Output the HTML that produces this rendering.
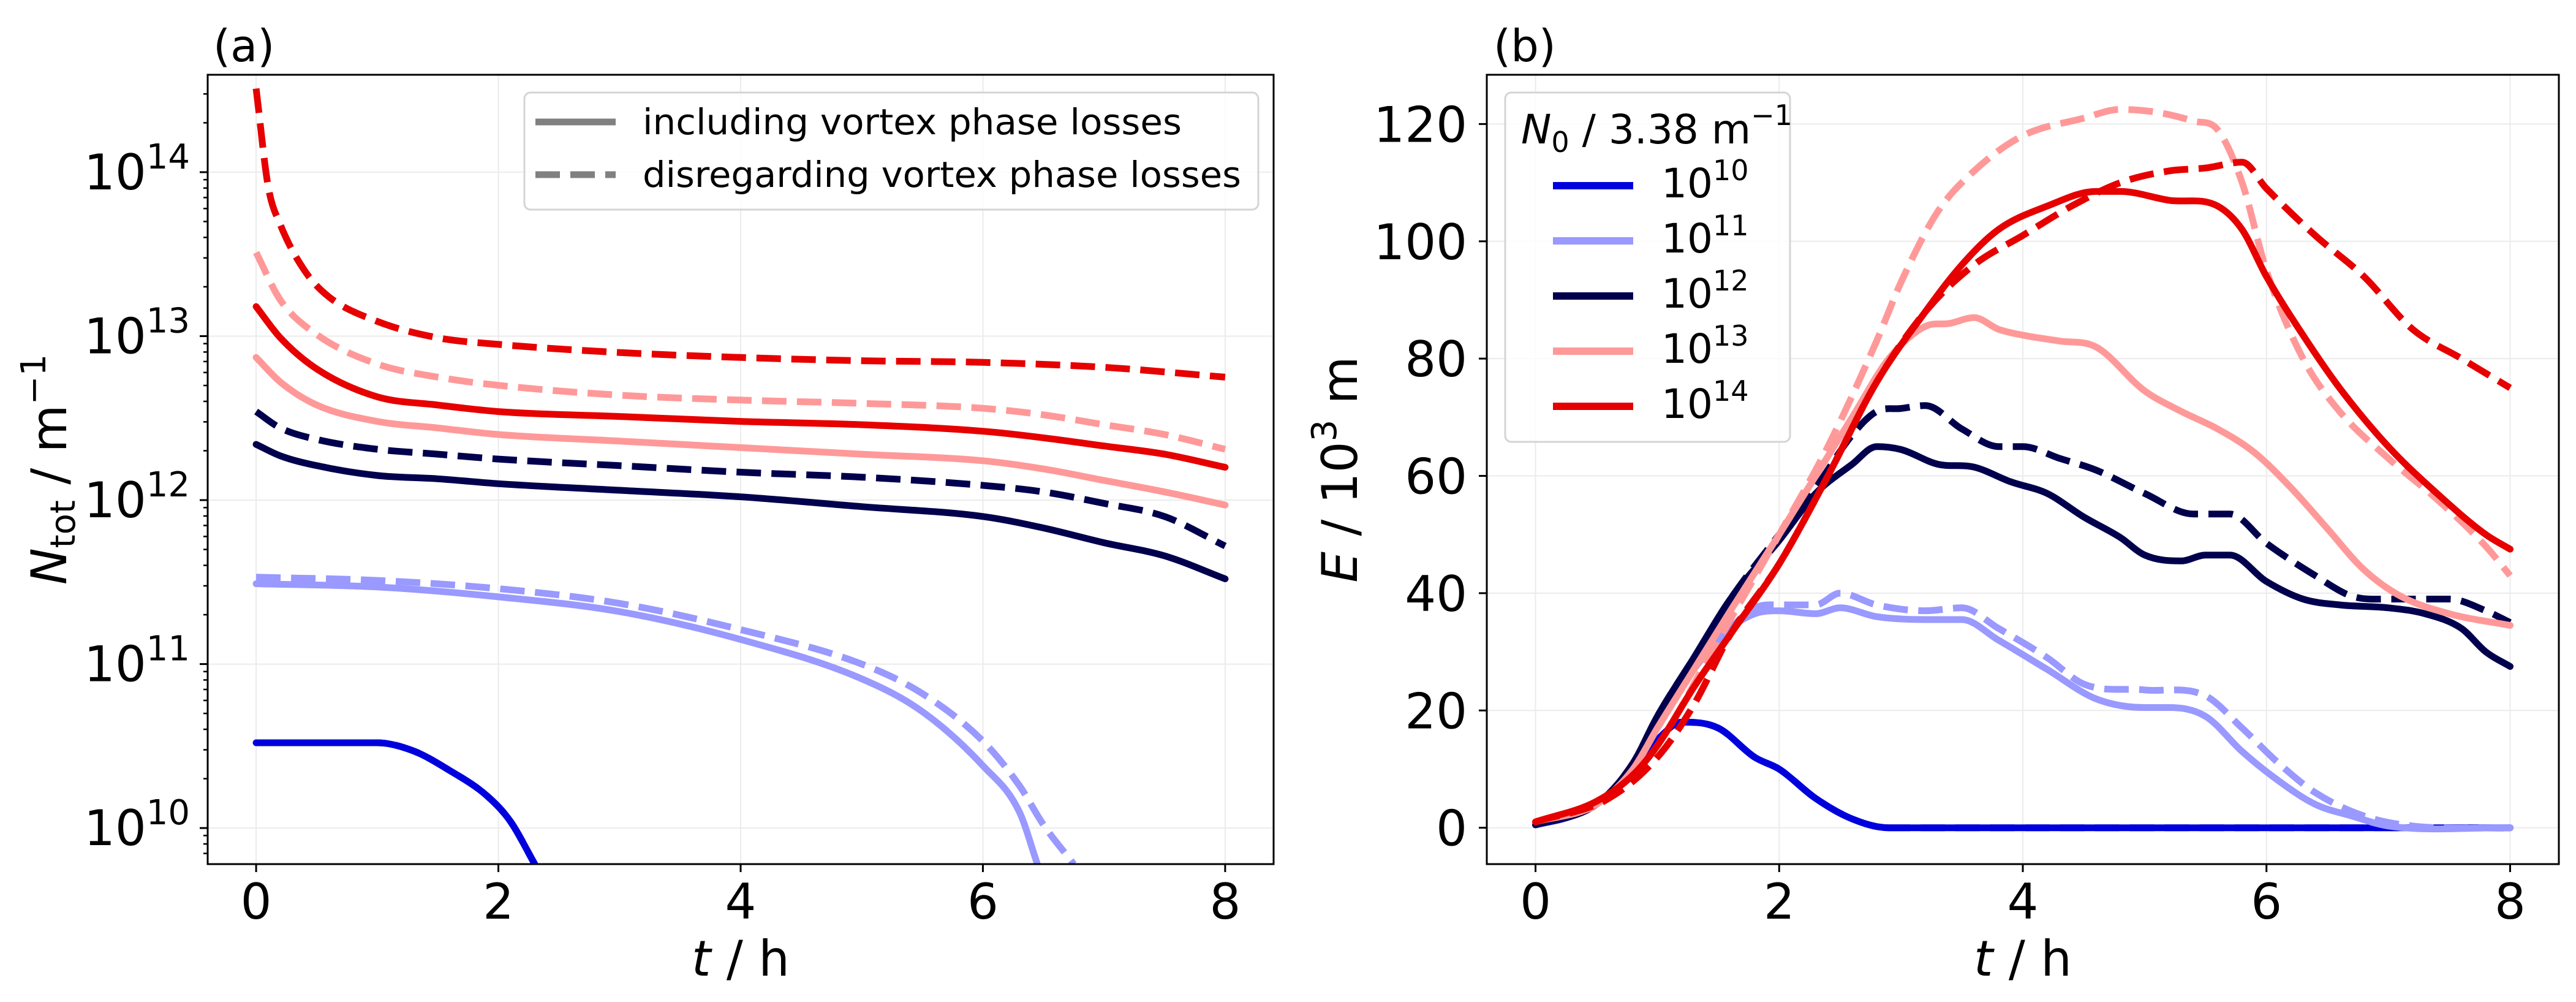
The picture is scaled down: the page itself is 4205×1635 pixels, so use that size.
<!DOCTYPE html>
<html><head><meta charset="utf-8"><style>
html,body{margin:0;padding:0;background:#fff;}
svg{display:block;font-family:"DejaVu Sans","Liberation Sans",sans-serif;}
</style></head><body>
<svg id="chart" width="4205" height="1635" viewBox="0 0 4205 1635" xmlns="http://www.w3.org/2000/svg">
<g id="pa"></g>
<g id="pb"></g>
</svg>
<script>
// ---------- data ----------
const xTicks = [0, 2, 4, 6, 8];
const aDecades = [10, 11, 12, 13, 14];
const bTicks = [0, 20, 40, 60, 80, 100, 120];
const seriesNames = ['1e10', '1e11', '1e12', '1e13', '1e14'];
const legendLabels = ['10', '11', '12', '13', '14'];
// panel (a): log10 N_tot
const aT_red = [0, 0.1, 0.2, 0.4, 0.6, 1, 1.5, 2, 3, 4, 5, 6, 7, 8];
const aRedDash = [14.51, 13.91, 13.68, 13.4, 13.24, 13.09, 12.99, 12.95, 12.9, 12.87, 12.85, 12.84, 12.81, 12.75];
const aT = [0, 0.2, 0.5, 1, 1.5, 2, 3, 4, 5, 6, 6.5, 7, 7.5, 8];
const aRedSolid = [13.18, 12.99, 12.8, 12.63, 12.58, 12.54, 12.51, 12.48, 12.46, 12.42, 12.38, 12.33, 12.28, 12.2];
const aPinkDash = [13.51, 13.22, 13.01, 12.83, 12.75, 12.70, 12.64, 12.61, 12.59, 12.56, 12.52, 12.46, 12.40, 12.31];
const aPinkSolid = [12.87, 12.72, 12.58, 12.48, 12.44, 12.40, 12.36, 12.32, 12.28, 12.24, 12.19, 12.12, 12.05, 11.97];
const aNavyDash = [12.54, 12.44, 12.37, 12.31, 12.28, 12.25, 12.21, 12.17, 12.14, 12.09, 12.05, 11.98, 11.90, 11.72];
const aNavySolid = [12.34, 12.27, 12.21, 12.15, 12.13, 12.10, 12.06, 12.02, 11.96, 11.90, 11.83, 11.74, 11.66, 11.52];
const aT_lbd = [0, 1, 2, 3, 4, 5, 5.5, 6, 6.3, 6.5, 6.75];
const aLBlueDash = [11.53, 11.51, 11.46, 11.37, 11.21, 11.0, 10.82, 10.53, 10.26, 10.02, 9.78];
const aT_lbs = [0, 1, 2, 3, 4, 5, 5.5, 6, 6.3, 6.45];
const aLBlueSolid = [11.49, 11.47, 11.41, 11.32, 11.15, 10.91, 10.71, 10.38, 10.10, 9.78];
const aT_b = [0, 0.5, 1, 1.3, 1.6, 1.9, 2.1, 2.3];
const aBlue = [10.52, 10.52, 10.52, 10.47, 10.35, 10.2, 10.04, 9.78];
// panel (b): E / 10^3 m
const bT_blue = [0, 0.3, 0.5, 0.75, 1, 1.2, 1.5, 1.8, 2, 2.3, 2.6, 2.9, 8];
const bBlue = [0.5, 2, 4, 9, 15, 18, 17, 12, 10, 5, 1.5, 0, 0];
const bT_lbs = [0, 0.5, 0.8, 1, 1.3, 1.6, 1.8, 2, 2.3, 2.5, 2.8, 3.2, 3.5, 3.8, 4.2, 4.6, 5, 5.2, 5.5, 5.8, 6.1, 6.4, 6.7, 7, 8];
const bLBlueSolid = [0.5, 4, 10, 17, 27, 34, 36.5, 37, 36.5, 37.5, 36, 35.5, 35.5, 32, 27, 22, 20.5, 20.5, 19, 13, 8, 4, 2, 0.3, 0];
const bT_lbd = [0, 0.5, 0.8, 1, 1.3, 1.6, 1.8, 2, 2.3, 2.5, 2.8, 3.2, 3.5, 3.8, 4.2, 4.5, 5, 5.5, 5.8, 6.1, 6.4, 6.8, 7.2, 8];
const bLBlueDash = [0.5, 4, 10, 17, 27, 34, 37.5, 38, 38, 40, 38, 37, 37.5, 34, 29, 24.5, 23.5, 22.5, 17, 11, 6, 2, 0.3, 0];
const bT_ns = [0, 0.5, 0.8, 1, 1.3, 1.6, 2, 2.3, 2.6, 2.8, 3, 3.3, 3.6, 3.9, 4.2, 4.5, 4.8, 5, 5.3, 5.5, 5.7, 6, 6.3, 6.6, 7, 7.3, 7.6, 7.8, 8];
const bNavySolid = [0.5, 4, 11, 19, 29, 39, 49, 57, 62, 65, 64.5, 62, 61.5, 59, 57, 53, 49.5, 46.5, 45.5, 46.5, 46.5, 42, 39, 38, 37.5, 36.5, 34, 30, 27.5];
const bT_nd = [0, 0.5, 0.8, 1, 1.3, 1.6, 2, 2.3, 2.6, 2.8, 3, 3.2, 3.5, 3.8, 4, 4.3, 4.6, 5, 5.4, 5.7, 6, 6.4, 6.7, 7, 7.5, 7.8, 8];
const bNavyDash = [0.5, 4, 11, 19, 29, 39, 50, 58, 67, 71, 71.5, 72, 68, 65, 65, 63, 61, 57, 53.5, 53.5, 48.5, 43, 39.5, 39, 39, 37, 35];
const bT_ps = [0, 0.5, 0.8, 1, 1.3, 1.6, 2, 2.3, 2.6, 2.9, 3.2, 3.4, 3.6, 3.8, 4, 4.3, 4.6, 5, 5.3, 5.6, 5.9, 6.2, 6.5, 6.8, 7.1, 7.5, 8];
const bPinkSolid = [1, 4, 10, 17, 27, 37, 50, 60, 70, 80, 85.5, 86, 87, 85, 84, 83, 82, 74.5, 71, 68, 64, 58, 51, 44, 39.5, 36.5, 34.5];
const bT_pd = [0, 0.6, 1, 1.5, 2, 2.4, 2.8, 3, 3.3, 3.6, 4, 4.5, 4.8, 5.1, 5.4, 5.6, 5.8, 6, 6.3, 6.6, 7, 7.4, 7.8, 8];
const bPinkDash = [1, 5, 14, 32, 50, 65, 83, 93, 105, 112, 118, 121, 122.5, 122, 120.5, 119, 110, 95, 80, 71, 63, 56, 48, 43];
const bT_rs = [0, 0.5, 0.8, 1, 1.3, 1.6, 2, 2.4, 2.8, 3.2, 3.5, 3.8, 4.2, 4.6, 4.8, 5.2, 5.6, 5.8, 6, 6.3, 6.6, 7, 7.4, 7.8, 8];
const bRedSolid = [1, 4.5, 9, 14, 24, 33, 45, 60, 76, 88, 96, 102, 106, 108.5, 108.5, 107, 106, 102, 94, 84, 75, 65, 57, 50, 47.5];
const bT_rd = [0, 0.6, 1, 1.3, 1.6, 2, 2.4, 2.8, 3.2, 3.6, 4, 4.4, 4.8, 5.2, 5.5, 5.8, 6, 6.4, 6.8, 7.2, 7.6, 8];
const bRedDash = [1, 5, 12, 21, 33, 45, 60, 76, 88, 96, 101, 106, 110, 112, 112.5, 113.5, 109, 101, 94, 85, 80, 75];

const C = {blue:'#0000dd', lblue:'#9999ff', navy:'#00004d', pink:'#ff9999', red:'#e60000'};
const NS = 'http://www.w3.org/2000/svg';
function mk(tag, attrs, parent, text){
  const e = document.createElementNS(NS, tag);
  for (const k in attrs) e.setAttribute(k, attrs[k]);
  if (text !== undefined) e.textContent = text;
  parent.appendChild(e); return e;
}
const A = {l:339, r:2079, t:122, b:1410, x0:-0.4, x1:8.4, y0:9.78, y1:14.594};
const B = {l:2427, r:4177, t:122, b:1410, x0:-0.4, x1:8.4, y0:-6.2, y1:128.4};
function sx(P, v){ return P.l + (v - P.x0) / (P.x1 - P.x0) * (P.r - P.l); }
function sy(P, v){ return P.b - (v - P.y0) / (P.y1 - P.y0) * (P.b - P.t); }

function frame(P, g, clipId){
  const d = mk('defs', {}, g);
  const cp = mk('clipPath', {id: clipId}, d);
  mk('rect', {x:P.l, y:P.t, width:P.r-P.l, height:P.b-P.t}, cp);
}
// cubic Hermite in x (no backward loops)
function smoothPath(pts){
  const n = pts.length;
  const m = [];
  for (let i = 0; i < n; i++) {
    if (i === 0) m.push((pts[1][1]-pts[0][1])/(pts[1][0]-pts[0][0]));
    else if (i === n-1) m.push((pts[n-1][1]-pts[n-2][1])/(pts[n-1][0]-pts[n-2][0]));
    else {
      const s0 = (pts[i][1]-pts[i-1][1])/(pts[i][0]-pts[i-1][0]);
      const s1 = (pts[i+1][1]-pts[i][1])/(pts[i+1][0]-pts[i][0]);
      m.push(s0*s1 <= 0 ? 0 : (s0+s1)/2);
    }
  }
  let d = 'M' + pts[0][0].toFixed(1) + ' ' + pts[0][1].toFixed(1);
  for (let i = 0; i < n-1; i++) {
    const dx = pts[i+1][0] - pts[i][0];
    const c1x = pts[i][0] + dx/3, c1y = pts[i][1] + m[i]*dx/3;
    const c2x = pts[i+1][0] - dx/3, c2y = pts[i+1][1] - m[i+1]*dx/3;
    d += 'C' + c1x.toFixed(1) + ' ' + c1y.toFixed(1) + ' ' + c2x.toFixed(1) + ' ' + c2y.toFixed(1) + ' ' + pts[i+1][0].toFixed(1) + ' ' + pts[i+1][1].toFixed(1);
  }
  return d;
}
function drawLine(P, g, xs, ys, color, dashed, name, clipId){
  const pts = xs.map((x, i) => [sx(P, x), sy(P, ys[i])]);
  const p = mk('path', {d:smoothPath(pts), fill:'none', stroke:color, 'stroke-width':11, 'stroke-linejoin':'round', 'stroke-linecap': dashed ? 'butt' : 'round', 'clip-path':'url(#'+clipId+')'}, g);
  if (dashed) p.setAttribute('stroke-dasharray', '40 17');
  
  
}

// ----- Panel A -----
const ga = document.getElementById('pa');
frame(A, ga, 'clipA');
xTicks.forEach(v => {
  const gl = mk('line', {x1:sx(A,v), x2:sx(A,v), y1:A.t, y2:A.b, stroke:'#ebebeb', 'stroke-width':2}, ga);
   
});
aDecades.forEach(v => {
  const gl = mk('line', {x1:A.l, x2:A.r, y1:sy(A,v), y2:sy(A,v), stroke:'#ebebeb', 'stroke-width':2}, ga);
   
});
const aS = [
  [aT_b, aBlue, C.blue, true, 'line-a-1e10-dashed'], [aT_b, aBlue, C.blue, false, 'line-a-1e10-solid'],
  [aT_lbd, aLBlueDash, C.lblue, true, 'line-a-1e11-dashed'], [aT_lbs, aLBlueSolid, C.lblue, false, 'line-a-1e11-solid'],
  [aT, aNavyDash, C.navy, true, 'line-a-1e12-dashed'], [aT, aNavySolid, C.navy, false, 'line-a-1e12-solid'],
  [aT, aPinkDash, C.pink, true, 'line-a-1e13-dashed'], [aT, aPinkSolid, C.pink, false, 'line-a-1e13-solid'],
  [aT_red, aRedDash, C.red, true, 'line-a-1e14-dashed'], [aT, aRedSolid, C.red, false, 'line-a-1e14-solid']];
aS.forEach(s => drawLine(A, ga, s[0], s[1], s[2], s[3], s[4], 'clipA'));
let fr = mk('rect', {x:A.l, y:A.t, width:A.r-A.l, height:A.b-A.t, fill:'none', stroke:'#000', 'stroke-width':3}, ga);
 
xTicks.forEach(v => {
  mk('line', {x1:sx(A,v), x2:sx(A,v), y1:A.b, y2:A.b+13, stroke:'#000', 'stroke-width':3}, ga);
  const t = mk('text', {x:sx(A,v), y:1499, 'font-size':80, 'text-anchor':'middle'}, ga, String(v));
   
});
for (let dec = 9; dec <= 14; dec++) {
  for (let m = 1; m <= 9; m++) {
    const lv = dec + Math.log10(m);
    if (lv < A.y0 || lv > A.y1) continue;
    const L = m === 1 ? 13 : 7;
    mk('line', {x1:A.l-L, x2:A.l, y1:sy(A,lv), y2:sy(A,lv), stroke:'#000', 'stroke-width': m===1?3:2.5}, ga);
  }
}
aDecades.forEach(v => {
  const t = mk('text', {x:310, y:sy(A,v)+28, 'font-size':80, 'text-anchor':'end'}, ga);
   
  mk('tspan', {}, t, '10');
  mk('tspan', {'font-size':56, dy:-34}, t, String(v));
});
let tl = mk('text', {x:348, y:100, 'font-size':72}, ga, '(a)');
 
let xl = mk('text', {x:sx(A,4), y:1592, 'font-size':80, 'text-anchor':'middle'}, ga);
 
mk('tspan', {'font-style':'italic'}, xl, 't'); mk('tspan', {}, xl, ' / h');
let yl = mk('text', {x:0, y:0, 'font-size':80, 'text-anchor':'middle', transform:'translate(108,766) rotate(-90)'}, ga);
 
mk('tspan', {'font-style':'italic'}, yl, 'N'); mk('tspan', {'font-size':56, dy:14}, yl, 'tot'); mk('tspan', {dy:-14}, yl, ' / m'); mk('tspan', {'font-size':56, dy:-34}, yl, '−1');
const lga = mk('g', {}, ga);  
mk('rect', {x:856, y:151, width:1198, height:191, rx:10, fill:'#fff', 'fill-opacity':0.8, stroke:'#d4d4d4', 'stroke-width':3}, lga);
mk('line', {x1:874, x2:1005, y1:199, y2:199, stroke:'#808080', 'stroke-width':11}, lga);
mk('line', {x1:874, x2:1005, y1:285, y2:285, stroke:'#808080', 'stroke-width':11, 'stroke-dasharray':'40 17'}, lga);
let e1 = mk('text', {x:1049, y:219, 'font-size':58, textLength:880, lengthAdjust:'spacingAndGlyphs'}, lga, 'including vortex phase losses');
 
let e2 = mk('text', {x:1049, y:305, 'font-size':58, textLength:977, lengthAdjust:'spacingAndGlyphs'}, lga, 'disregarding vortex phase losses');
 

// ----- Panel B -----
const gb = document.getElementById('pb');
frame(B, gb, 'clipB');
xTicks.forEach(v => {
  const gl = mk('line', {x1:sx(B,v), x2:sx(B,v), y1:B.t, y2:B.b, stroke:'#ebebeb', 'stroke-width':2}, gb);
   
});
bTicks.forEach(v => {
  const gl = mk('line', {x1:B.l, x2:B.r, y1:sy(B,v), y2:sy(B,v), stroke:'#ebebeb', 'stroke-width':2}, gb);
   
});
const bS = [
  [bT_blue, bBlue, C.blue, true, 'line-b-1e10-dashed'], [bT_blue, bBlue, C.blue, false, 'line-b-1e10-solid'],
  [bT_lbd, bLBlueDash, C.lblue, true, 'line-b-1e11-dashed'], [bT_lbs, bLBlueSolid, C.lblue, false, 'line-b-1e11-solid'],
  [bT_nd, bNavyDash, C.navy, true, 'line-b-1e12-dashed'], [bT_ns, bNavySolid, C.navy, false, 'line-b-1e12-solid'],
  [bT_pd, bPinkDash, C.pink, true, 'line-b-1e13-dashed'], [bT_ps, bPinkSolid, C.pink, false, 'line-b-1e13-solid'],
  [bT_rd, bRedDash, C.red, true, 'line-b-1e14-dashed'], [bT_rs, bRedSolid, C.red, false, 'line-b-1e14-solid']];
bS.forEach(s => drawLine(B, gb, s[0], s[1], s[2], s[3], s[4], 'clipB'));
fr = mk('rect', {x:B.l, y:B.t, width:B.r-B.l, height:B.b-B.t, fill:'none', stroke:'#000', 'stroke-width':3}, gb);
 
xTicks.forEach(v => {
  mk('line', {x1:sx(B,v), x2:sx(B,v), y1:B.b, y2:B.b+13, stroke:'#000', 'stroke-width':3}, gb);
  const t = mk('text', {x:sx(B,v), y:1499, 'font-size':80, 'text-anchor':'middle'}, gb, String(v));
   
});
bTicks.forEach(v => {
  mk('line', {x1:B.l-13, x2:B.l, y1:sy(B,v), y2:sy(B,v), stroke:'#000', 'stroke-width':3}, gb);
  const t = mk('text', {x:2395, y:sy(B,v)+29, 'font-size':80, 'text-anchor':'end'}, gb, String(v));
   
});
tl = mk('text', {x:2438, y:100, 'font-size':72}, gb, '(b)');
 
xl = mk('text', {x:sx(B,4), y:1592, 'font-size':80, 'text-anchor':'middle'}, gb);
 
mk('tspan', {'font-style':'italic'}, xl, 't'); mk('tspan', {}, xl, ' / h');
yl = mk('text', {x:0, y:0, 'font-size':80, 'text-anchor':'middle', transform:'translate(2215,766) rotate(-90)'}, gb);
 
mk('tspan', {'font-style':'italic'}, yl, 'E'); mk('tspan', {}, yl, ' / 10'); mk('tspan', {'font-size':56, dy:-34}, yl, '3'); mk('tspan', {dy:34}, yl, ' m');
const lgb = mk('g', {}, gb);  
mk('rect', {x:2457, y:151, width:465, height:570, rx:10, fill:'#fff', 'fill-opacity':0.8, stroke:'#d4d4d4', 'stroke-width':3}, lgb);
const lt = mk('text', {x:2483, y:234, 'font-size':66}, lgb);
 
mk('tspan', {'font-style':'italic'}, lt, 'N'); mk('tspan', {'font-size':46, dy:14}, lt, '0'); mk('tspan', {dy:-14}, lt, ' / 3.38 m'); mk('tspan', {'font-size':46, dy:-30}, lt, '−1');
const lcol = [C.blue, C.lblue, C.navy, C.pink, C.red];
legendLabels.forEach((lab, i) => {
  const y = 303 + i * 90;
  const ln = mk('line', {x1:2535, x2:2666, y1:y, y2:y, stroke:lcol[i], 'stroke-width':12}, lgb);
   
  const t = mk('text', {x:2712, y:y+19, 'font-size':66}, lgb);
   
  mk('tspan', {}, t, '10'); mk('tspan', {'font-size':46, dy:-28}, t, lab);
});
</script>
</body></html>
